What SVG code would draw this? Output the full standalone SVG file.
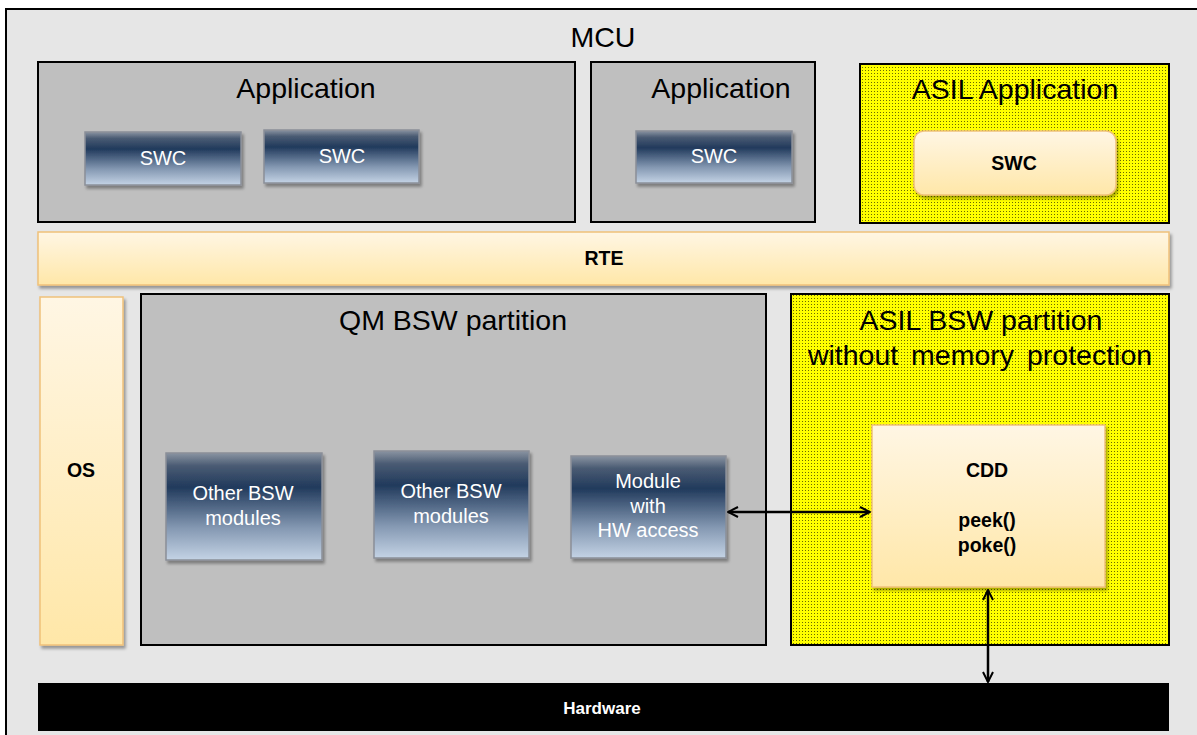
<svg xmlns="http://www.w3.org/2000/svg" width="1197" height="735" viewBox="0 0 1197 735">
<defs>
<linearGradient id="blue" x1="0" y1="0" x2="0" y2="1">
<stop offset="0" stop-color="#8a94a2"/>
<stop offset="0.12" stop-color="#4a5b73"/>
<stop offset="0.32" stop-color="#213a5c"/>
<stop offset="0.7" stop-color="#8498b2"/>
<stop offset="1" stop-color="#c4d3e5"/>
</linearGradient>
<linearGradient id="cream" x1="0" y1="0" x2="0" y2="1">
<stop offset="0" stop-color="#fff6e4"/>
<stop offset="1" stop-color="#ffe7a8"/>
</linearGradient>
<pattern id="dots" width="3" height="3" patternUnits="userSpaceOnUse">
<rect width="3" height="3" fill="#ffff00"/>
<rect x="1" y="1" width="1" height="1" fill="#6b6b00"/>
</pattern>
<filter id="sh" x="-10%" y="-10%" width="130%" height="130%">
<feDropShadow dx="2" dy="3" stdDeviation="1.5" flood-color="#000" flood-opacity="0.35"/>
</filter>
<marker id="ah" viewBox="0 0 12 12" refX="11" refY="6" markerWidth="12" markerHeight="12" markerUnits="userSpaceOnUse" orient="auto-start-reverse">
<path d="M1,1 L11,6 L1,11" fill="none" stroke="#000" stroke-width="2"/>
</marker>
</defs>
<style>
.title{font-family:"Liberation Sans",Arial,sans-serif;font-size:28.5px;fill:#000;text-anchor:middle}
.grey{fill:#bfbfbf;stroke:#000;stroke-width:2}
.asil{fill:url(#dots);stroke:#000;stroke-width:2}
.btn{fill:url(#blue);stroke:#8a8f98;stroke-width:1.5;filter:url(#sh)}
.btxt{font-family:"Liberation Sans",Arial,sans-serif;font-size:20px;fill:#fff;text-anchor:middle}
.cr{fill:url(#cream);stroke:#f0c17a;stroke-width:1.5;filter:url(#sh)}
.bold{font-family:"Liberation Sans",Arial,sans-serif;font-size:19.5px;font-weight:bold;fill:#000;text-anchor:middle}
.conn{stroke:#000;stroke-width:2.5;fill:none;marker-start:url(#ah);marker-end:url(#ah)}
</style>
<g id="mcu">
<rect x="6" y="9" width="1200" height="740" fill="#e6e6e6" stroke="#000" stroke-width="2"/>
<text class="title" x="603" y="47">MCU</text>
</g>
<g id="app1">
<rect class="grey" x="38" y="62" width="537" height="160"/>
<text class="title" x="306" y="98">Application</text>
</g>
<g id="swc1">
<rect class="btn" x="85" y="132" width="156" height="53"/>
<text class="btxt" x="163" y="165">SWC</text>
</g>
<g id="swc2">
<rect class="btn" x="264" y="130" width="155" height="53"/>
<text class="btxt" x="342" y="163">SWC</text>
</g>
<g id="app2">
<rect class="grey" x="591" y="62" width="224" height="160"/>
<text class="title" x="721" y="98">Application</text>
</g>
<g id="swc3">
<rect class="btn" x="636" y="131" width="156" height="52"/>
<text class="btxt" x="714" y="163">SWC</text>
</g>
<g id="asilapp">
<rect class="asil" x="860" y="64" width="309" height="159"/>
<text class="title" x="1015" y="99">ASIL Application</text>
</g>
<g id="swc4">
<rect class="cr" x="914" y="131" width="202" height="64" rx="10"/>
<text class="bold" x="1014" y="170">SWC</text>
</g>
<g id="rte">
<rect class="cr" x="38" y="232" width="1131" height="53"/>
<text class="bold" x="604" y="265">RTE</text>
</g>
<g id="os">
<rect class="cr" x="40" y="297" width="83" height="348"/>
<text class="bold" x="81" y="477">OS</text>
</g>
<g id="qm">
<rect class="grey" x="141" y="294" width="625" height="351"/>
<text class="title" x="453" y="330">QM BSW partition</text>
</g>
<g id="bsw1">
<rect class="btn" x="166" y="453" width="156" height="107"/>
<text class="btxt" x="243" y="500">Other BSW</text>
<text class="btxt" x="243" y="525">modules</text>
</g>
<g id="bsw2">
<rect class="btn" x="374" y="451" width="155" height="107"/>
<text class="btxt" x="451" y="498">Other BSW</text>
<text class="btxt" x="451" y="523">modules</text>
</g>
<g id="bsw3">
<rect class="btn" x="571" y="456" width="155" height="102"/>
<text class="btxt" x="648" y="488">Module</text>
<text class="btxt" x="648" y="513">with</text>
<text class="btxt" x="648" y="537">HW access</text>
</g>
<g id="asilbsw">
<rect class="asil" x="791" y="294" width="378" height="351"/>
<text class="title" x="981" y="330">ASIL BSW partition</text>
<text class="title" x="980" y="365" word-spacing="5">without memory protection</text>
</g>
<g id="cdd">
<rect class="cr" x="872" y="425" width="233" height="162"/>
<text class="bold" x="987" y="477">CDD</text>
<text class="bold" x="987" y="527">peek()</text>
<text class="bold" x="987" y="552">poke()</text>
</g>
<g id="hw">
<rect x="38" y="683" width="1131" height="48" fill="#000"/>
<text class="bold" x="602" y="714" style="fill:#fff;font-size:17px">Hardware</text>
</g>
<g id="connectors">
<line class="conn" x1="728" y1="512" x2="870" y2="512"/>
<line class="conn" x1="988" y1="590" x2="988" y2="682"/>
</g>
</svg>
